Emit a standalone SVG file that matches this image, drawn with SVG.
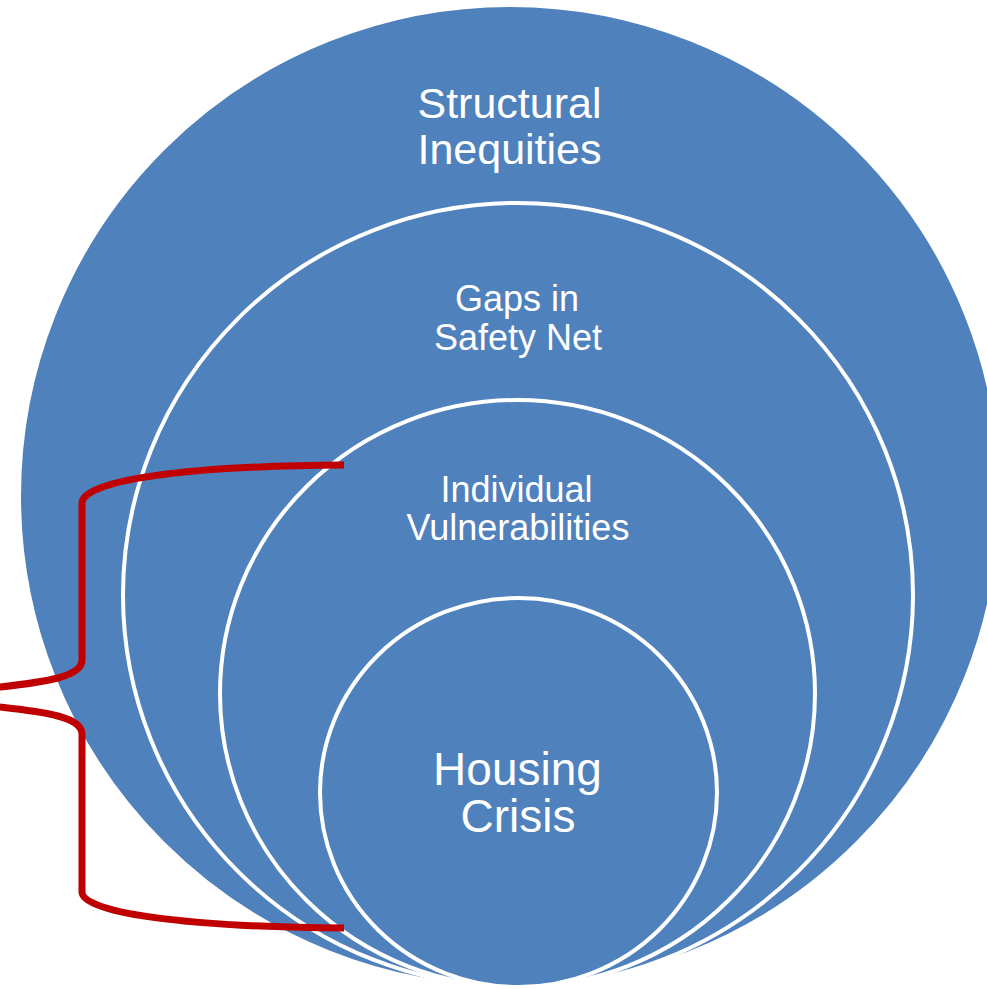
<svg xmlns="http://www.w3.org/2000/svg" width="987" height="989" viewBox="0 0 987 989">
  <style>
    .ring { fill: #4F81BD; stroke: #FFFFFF; stroke-width: 4; }
    .lbl { fill: #FFFFFF; font-family: "Liberation Sans", Arial, sans-serif; text-anchor: middle; }
    .brace { fill: none; stroke: #C00000; stroke-width: 7; stroke-linejoin: round; stroke-linecap: butt; }
  </style>
  <rect x="0" y="0" width="987" height="989" fill="#FFFFFF"/>
  <g id="structural-inequities">
    <ellipse class="ring" cx="510" cy="496" rx="491" ry="491"/>
    <text class="lbl" x="509.5" y="118" font-size="43">Structural</text>
    <text class="lbl" x="509.5" y="164" font-size="43">Inequities</text>
  </g>
  <g id="gaps-in-safety-net">
    <ellipse class="ring" cx="518" cy="595" rx="395" ry="392"/>
    <text class="lbl" x="517" y="311" font-size="36">Gaps in</text>
    <text class="lbl" x="518" y="350" font-size="36">Safety Net</text>
  </g>
  <g id="individual-vulnerabilities">
    <ellipse class="ring" cx="517.5" cy="693.5" rx="297.5" ry="293.5"/>
    <text class="lbl" x="516.5" y="502" font-size="36">Individual</text>
    <text class="lbl" x="518" y="540" font-size="36">Vulnerabilities</text>
  </g>
  <g id="housing-crisis">
    <ellipse class="ring" cx="518.5" cy="792.5" rx="198.5" ry="194.5"/>
    <text class="lbl" x="517.5" y="785" font-size="46">Housing</text>
    <text class="lbl" x="518" y="832" font-size="46">Crisis</text>
  </g>
  <g id="connectors">
    <path class="brace" d="M344,465 C180,466 82,481 82,503 L82,660 C82,677 45,682 0,687 L-50,697 L0,707 C45,712 82,717 82,734 L82,892 C82,912 180,927 344,928"/>
  </g>
</svg>
